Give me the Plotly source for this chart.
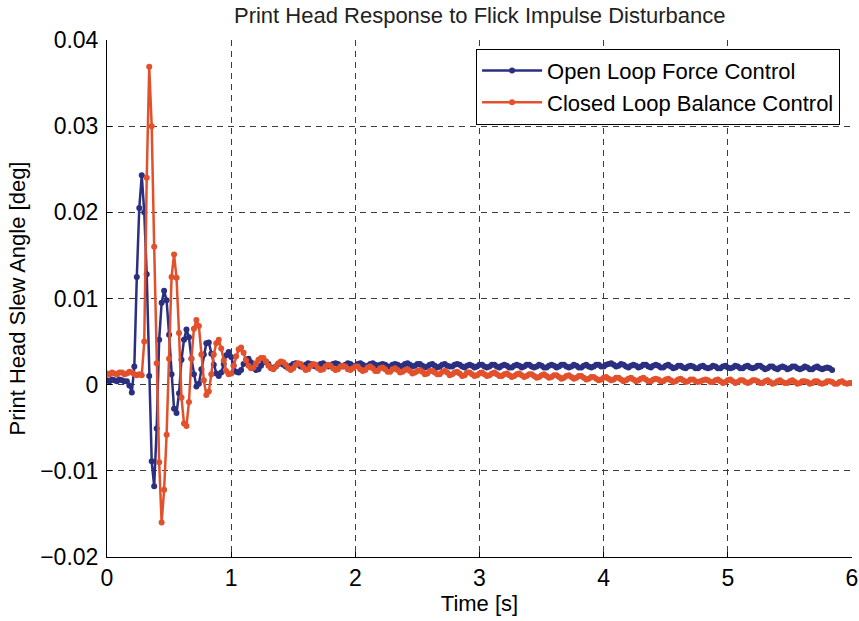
import numpy as np
import plotly.graph_objects as go

# Sampling interval of the logged response [s]
dt = 0.02

# Print head slew angle [deg], open loop force control
open_loop = [
    0.0005, 0.0004, 0.0006, 0.0005, 0.0004, 0.0006, 0.0005, 0.0004, 0.0004, -0.0001,
    -0.0009, 0.0021, 0.0125, 0.0205, 0.0243, 0.0200, 0.0128, 0.0010, -0.0089, -0.0118,
    -0.0051, 0.0052, 0.0095, 0.0109, 0.0098, 0.0058, 0.0012, -0.0028, -0.0033, -0.0010,
    0.0029, 0.0052, 0.0064, 0.0055, 0.0030, 0.0012, -0.0002, 0.0001, 0.0018, 0.0035,
    0.0048, 0.0049, 0.0036, 0.0023, 0.0013, 0.0010, 0.0014, 0.0024, 0.0034, 0.0038,
    0.0032, 0.0022, 0.0015, 0.0014, 0.0017, 0.0024, 0.0029, 0.0030, 0.0026, 0.0020,
    0.0017, 0.0018, 0.0022, 0.0026, 0.0027, 0.0024, 0.0020, 0.0019, 0.0021, 0.0024,
    0.0025,
    0.0023, 0.0021, 0.0020, 0.0022, 0.0024, 0.0025, 0.0023, 0.0021, 0.0021, 0.0023,
    0.0025, 0.0024, 0.0022, 0.0021, 0.0022, 0.0024, 0.0025, 0.0023, 0.0021, 0.0022,
    0.0024, 0.0025, 0.0024, 0.0022, 0.0021, 0.0023, 0.0025, 0.0024, 0.0022, 0.0022,
    0.0024, 0.0025, 0.0023, 0.0021, 0.0022, 0.0024, 0.0025, 0.0023, 0.0022, 0.0023,
    0.0024, 0.0023, 0.0021, 0.0021, 0.0023, 0.0024, 0.0023, 0.0021, 0.0022, 0.0024,
    0.0025, 0.0023, 0.0021, 0.0022, 0.0024, 0.0024, 0.0022, 0.0020, 0.0021, 0.0023,
    0.0024, 0.0022, 0.0020, 0.0021, 0.0023, 0.0024, 0.0022, 0.0021, 0.0021, 0.0023,
    0.0024, 0.0023, 0.0021, 0.0020, 0.0022, 0.0023, 0.0022, 0.0020, 0.0021, 0.0023,
    0.0023, 0.0021, 0.0020, 0.0021, 0.0023, 0.0023, 0.0021, 0.0020, 0.0022, 0.0023,
    0.0022, 0.0020, 0.0020, 0.0022, 0.0023, 0.0022, 0.0020, 0.0021, 0.0023, 0.0023,
    0.0021, 0.0020, 0.0021, 0.0023, 0.0022, 0.0020, 0.0020, 0.0022, 0.0023, 0.0022,
    0.0020, 0.0021, 0.0023, 0.0023, 0.0021, 0.0020, 0.0021, 0.0023, 0.0022, 0.0020,
    0.0020, 0.0022, 0.0023, 0.0021, 0.0020, 0.0021, 0.0023, 0.0023, 0.0021, 0.0021,
    0.0023, 0.0024, 0.0025, 0.0023, 0.0021, 0.0022, 0.0024, 0.0023, 0.0021, 0.0020,
    0.0022, 0.0023, 0.0022, 0.0020, 0.0021, 0.0023, 0.0023, 0.0021, 0.0020, 0.0022,
    0.0023, 0.0022, 0.0020, 0.0020, 0.0022, 0.0023, 0.0021, 0.0019, 0.0020, 0.0022,
    0.0022, 0.0020, 0.0019, 0.0021, 0.0022, 0.0021, 0.0019, 0.0019, 0.0021, 0.0022,
    0.0020, 0.0019, 0.0020, 0.0022, 0.0021, 0.0019, 0.0019, 0.0021, 0.0022, 0.0020,
    0.0019, 0.0020, 0.0022, 0.0021, 0.0019, 0.0019, 0.0021, 0.0022, 0.0020, 0.0019,
    0.0020, 0.0022, 0.0022, 0.0020, 0.0018, 0.0019, 0.0021, 0.0021, 0.0019, 0.0018,
    0.0020, 0.0021, 0.0020, 0.0018, 0.0019, 0.0021, 0.0021, 0.0019, 0.0018, 0.0019,
    0.0021, 0.0020, 0.0018, 0.0018, 0.0020, 0.0021, 0.0019, 0.0018, 0.0019, 0.0020,
    0.0019, 0.0017,
]

# Print head slew angle [deg], closed loop balance control
closed_loop = [
    0.0013, 0.0012, 0.0014, 0.0013, 0.0012, 0.0014, 0.0014, 0.0012, 0.0013, 0.0015,
    0.0014, 0.0012, 0.0011, 0.0012, 0.0011, 0.0050, 0.0240, 0.0369, 0.0300, 0.0160,
    0.0025, -0.0090, -0.0160, -0.0122, -0.0058, 0.0030, 0.0125, 0.0151, 0.0124, 0.0060,
    -0.0015, -0.0045, -0.0048, -0.0020, 0.0030, 0.0065, 0.0075, 0.0068, 0.0035, 0.0005,
    -0.0012, -0.0008, 0.0012, 0.0035, 0.0048, 0.0052, 0.0042, 0.0028, 0.0016, 0.0012,
    0.0013, 0.0022, 0.0033, 0.0041, 0.0043, 0.0037, 0.0028, 0.0022, 0.0019, 0.0020,
    0.0025, 0.0029, 0.0031, 0.0031, 0.0027, 0.0022, 0.0019, 0.0018, 0.0021, 0.0025,
    0.0027,
    0.0026, 0.0023, 0.0019, 0.0017, 0.0019, 0.0023, 0.0025, 0.0024, 0.0020, 0.0017,
    0.0018, 0.0022, 0.0024, 0.0023, 0.0019, 0.0017, 0.0018, 0.0021, 0.0023, 0.0022,
    0.0019, 0.0017, 0.0018, 0.0021, 0.0022, 0.0021, 0.0018, 0.0017, 0.0019, 0.0021,
    0.0021, 0.0018, 0.0016, 0.0017, 0.0020, 0.0021, 0.0019, 0.0016, 0.0016, 0.0019,
    0.0020, 0.0018, 0.0015, 0.0015, 0.0018, 0.0019, 0.0017, 0.0014, 0.0015, 0.0017,
    0.0018, 0.0016, 0.0013, 0.0014, 0.0016, 0.0017, 0.0015, 0.0012, 0.0013, 0.0016,
    0.0016, 0.0014, 0.0012, 0.0012, 0.0015, 0.0016, 0.0014, 0.0011, 0.0012, 0.0014,
    0.0015, 0.0013, 0.0010, 0.0011, 0.0014, 0.0014, 0.0012, 0.0010, 0.0011, 0.0013,
    0.0014, 0.0012, 0.0010, 0.0011, 0.0013, 0.0014, 0.0012, 0.0010, 0.0010, 0.0012,
    0.0013, 0.0011, 0.0009, 0.0010, 0.0012, 0.0013, 0.0011, 0.0009, 0.0010, 0.0012,
    0.0012, 0.0010, 0.0008, 0.0009, 0.0011, 0.0012, 0.0010, 0.0008, 0.0009, 0.0011,
    0.0011, 0.0009, 0.0007, 0.0008, 0.0010, 0.0011, 0.0009, 0.0007, 0.0008, 0.0010,
    0.0010, 0.0008, 0.0006, 0.0007, 0.0009, 0.0009, 0.0007, 0.0005, 0.0006, 0.0008,
    0.0009, 0.0007, 0.0005, 0.0006, 0.0008, 0.0008, 0.0006, 0.0004, 0.0005, 0.0007,
    0.0008, 0.0006, 0.0004, 0.0005, 0.0007, 0.0008, 0.0006, 0.0004, 0.0004, 0.0006,
    0.0007, 0.0006, 0.0004, 0.0004, 0.0006, 0.0007, 0.0005, 0.0003, 0.0004, 0.0006,
    0.0007, 0.0005, 0.0003, 0.0004, 0.0006, 0.0006, 0.0004, 0.0003, 0.0004, 0.0005,
    0.0006, 0.0005, 0.0003, 0.0003, 0.0005, 0.0006, 0.0004, 0.0002, 0.0003, 0.0005,
    0.0006, 0.0004, 0.0002, 0.0003, 0.0005, 0.0005, 0.0003, 0.0002, 0.0003, 0.0005,
    0.0005, 0.0004, 0.0002, 0.0002, 0.0004, 0.0005, 0.0003, 0.0001, 0.0002, 0.0004,
    0.0005, 0.0003, 0.0002, 0.0002, 0.0004, 0.0005, 0.0003, 0.0001, 0.0002, 0.0004,
    0.0004, 0.0003, 0.0001, 0.0002, 0.0004, 0.0004, 0.0002, 0.0001, 0.0002, 0.0004,
    0.0004, 0.0003, 0.0001, 0.0001, 0.0003, 0.0004, 0.0002, 0.0001, 0.0002, 0.0002,
]

series_names = ["Open Loop Force Control", "Closed Loop Balance Control"]
series_colors = ["#2a2f80", "#e2502c"]

x_ticks = [0, 1, 2, 3, 4, 5, 6]
y_ticks = [-0.02, -0.01, 0, 0.01, 0.02, 0.03, 0.04]

FONT = "Liberation Sans, Arial, Helvetica, sans-serif"

fig = go.Figure()
for values, name, color in zip([open_loop, closed_loop], series_names, series_colors):
    t = np.arange(len(values)) * dt
    fig.add_trace(go.Scatter(
        x=t, y=values, name=name, mode="lines+markers",
        line=dict(color=color, width=2.5),
        marker=dict(color=color, size=6),
    ))

grid_style = dict(
    showgrid=True, gridcolor="#3c3c3c", gridwidth=1, griddash="6px,5px",
    showline=True, linecolor="black", linewidth=1, mirror=False,
    zeroline=False, ticks="inside", ticklen=5, tickcolor="black",
    tickfont=dict(family=FONT, size=23, color="black"),
    automargin=False,
)

fig.update_xaxes(
    range=[0, 6], tickvals=x_ticks,
    title=dict(text="Time [s]", font=dict(family=FONT, size=22, color="black"), standoff=4),
    **grid_style,
)
fig.update_yaxes(
    range=[-0.02, 0.04], tickvals=y_ticks, ticklabelstandoff=3,
    title=dict(text="Print Head Slew Angle [deg]", font=dict(family=FONT, size=22, color="black"), standoff=8),
    **grid_style,
)

fig.update_layout(
    width=859, height=621,
    margin=dict(l=107, r=7, t=40, b=64, autoexpand=False),
    paper_bgcolor="white", plot_bgcolor="white",
    title=dict(
        text="Print Head Response to Flick Impulse Disturbance",
        font=dict(family=FONT, size=22, color="#222222"),
        x=0.5585, xanchor="center", y=0.976, yanchor="middle",
    ),
    legend=dict(
        x=0.984, y=0.983, xanchor="right", yanchor="top",
        bgcolor="white", bordercolor="black", borderwidth=1,
        font=dict(family=FONT, size=22, color="black"),
        tracegroupgap=0, itemwidth=60,
    ),
    showlegend=True,
)

fig.write_html("out.html")
